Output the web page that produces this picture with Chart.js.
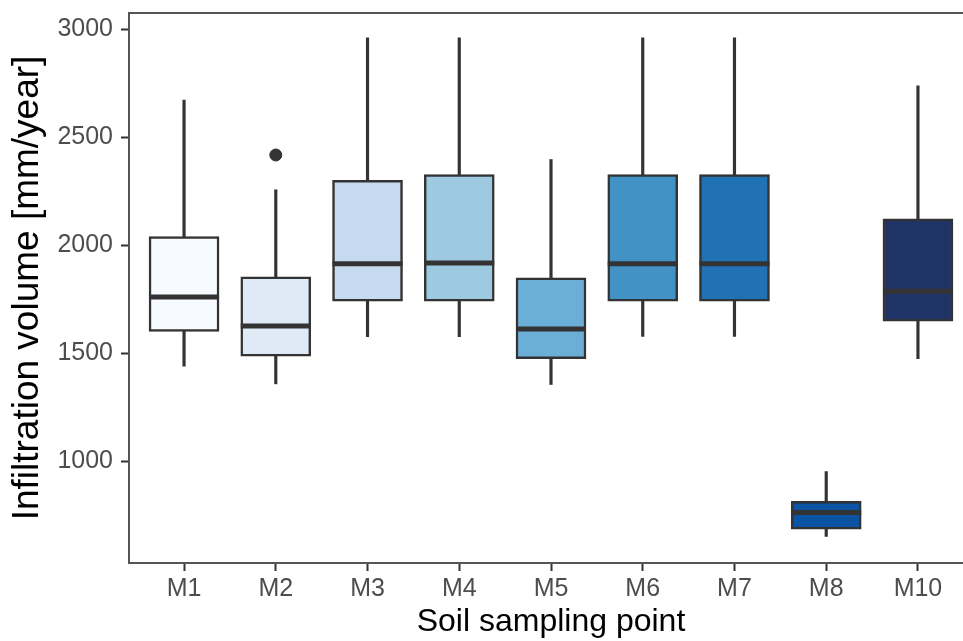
<!DOCTYPE html>
<html>
<head>
<meta charset="utf-8">
<script src="https://cdn.jsdelivr.net/npm/chart.js@4"></script>
<style>
  html, body { margin: 0; padding: 0; background: #fff; overflow: hidden; }
  #wrap { width: 980px; height: 641px; }
</style>
</head>
<body>
<div id="wrap"><canvas id="chart"></canvas></div>
<script>
const sites = ['M1', 'M2', 'M3', 'M4', 'M5', 'M6', 'M7', 'M8', 'M10'];
const whiskerLow = [1441, 1359, 1577, 1577, 1356, 1579, 1579, 653, 1476];
const q1 = [1602, 1487, 1741, 1741, 1475, 1741, 1741, 687, 1649];
const median = [1761, 1627, 1915, 1918, 1613, 1915, 1915, 764, 1787];
const q3 = [2041, 1854, 2301, 2327, 1849, 2327, 2327, 815, 2123];
const whiskerHigh = [2672, 2257, 2960, 2960, 2397, 2960, 2960, 953, 2738];
const outliers = [{ site: 'M2', value: 2418 }];
const yTicks = [1000, 1500, 2000, 2500, 3000];

const fills = ['#f7fbff', '#deebf7', '#c6dbef', '#9ecae1', '#6baed6',
               '#4292c6', '#2171b5', '#0b53a3', '#1f3367'];
const ink = '#333333';

const pos = sites.map((s, i) => i + 1);

const medianLines = {
  id: 'medianLines',
  afterDatasetsDraw(chart) {
    const ctx = chart.ctx;
    const meta = chart.getDatasetMeta(1);
    const y = chart.scales.y;
    ctx.save();
    ctx.strokeStyle = ink;
    ctx.lineWidth = 5;
    meta.data.forEach((bar, i) => {
      const py = y.getPixelForValue(median[i]);
      ctx.beginPath();
      ctx.moveTo(bar.x - bar.width / 2, py);
      ctx.lineTo(bar.x + bar.width / 2, py);
      ctx.stroke();
    });
    ctx.restore();
  }
};

const panelBorder = {
  id: 'panelBorder',
  afterDraw(chart) {
    const a = chart.chartArea;
    const ctx = chart.ctx;
    ctx.save();
    ctx.strokeStyle = '#555555';
    ctx.lineWidth = 2;
    ctx.strokeRect(a.left, a.top, a.right - a.left, a.bottom - a.top);
    ctx.restore();
  }
};

new Chart(document.getElementById('chart'), {
  type: 'bar',
  data: {
    datasets: [
      {
        label: 'whiskers',
        data: pos.map((x, i) => ({ x: x, y: [whiskerLow[i], whiskerHigh[i]] })),
        backgroundColor: ink,
        barThickness: 2.5,
        grouped: false,
        order: 3
      },
      {
        label: 'boxes',
        data: pos.map((x, i) => ({ x: x, y: [q1[i], q3[i]] })),
        backgroundColor: fills,
        borderColor: ink,
        borderWidth: 2.5,
        borderSkipped: false,
        barThickness: 70,
        grouped: false,
        order: 2
      },
      {
        type: 'scatter',
        label: 'outliers',
        data: outliers.map(o => ({ x: sites.indexOf(o.site) + 1, y: o.value })),
        backgroundColor: ink,
        borderColor: ink,
        pointRadius: 6,
        order: 1
      }
    ]
  },
  options: {
    responsive: true,
    maintainAspectRatio: false,
    animation: false,
    layout: { padding: { top: 13, right: 4, left: 0, bottom: 0 } },
    plugins: {
      legend: { display: false },
      tooltip: { enabled: false }
    },
    scales: {
      x: {
        type: 'linear',
        min: 0.4,
        max: 9.6,
        offset: false,
        afterBuildTicks: scale => { scale.ticks = pos.map(v => ({ value: v })); },
        afterFit: scale => { scale.height = 78; },
        grid: { offset: false, drawOnChartArea: false, tickLength: 8, tickColor: ink, tickWidth: 2 },
        border: { display: false },
        ticks: {
          color: '#4d4d4d',
          padding: 3,
          font: { family: 'Liberation Sans', size: 25 },
          callback: v => sites[v - 1]
        },
        title: {
          display: true,
          text: 'Soil sampling point',
          color: '#000',
          font: { family: 'Liberation Sans', size: 32 },
          padding: { top: 0, bottom: 0 }
        }
      },
      y: {
        min: 530,
        max: 3075,
        afterBuildTicks: scale => { scale.ticks = yTicks.map(v => ({ value: v })); },
        afterFit: scale => { scale.width = 129; },
        grid: { drawOnChartArea: false, tickLength: 8, tickColor: ink, tickWidth: 2 },
        border: { display: false },
        ticks: {
          color: '#4d4d4d',
          padding: 8,
          font: { family: 'Liberation Sans', size: 25, lineHeight: 0.4 },
          callback: v => String(v)
        },
        title: {
          display: true,
          text: 'Infiltration volume [mm/year]',
          color: '#000',
          font: { family: 'Liberation Sans', size: 37 },
          padding: { top: 6, bottom: 0 }
        }
      }
    }
  },
  plugins: [medianLines, panelBorder]
});
</script>
</body>
</html>
